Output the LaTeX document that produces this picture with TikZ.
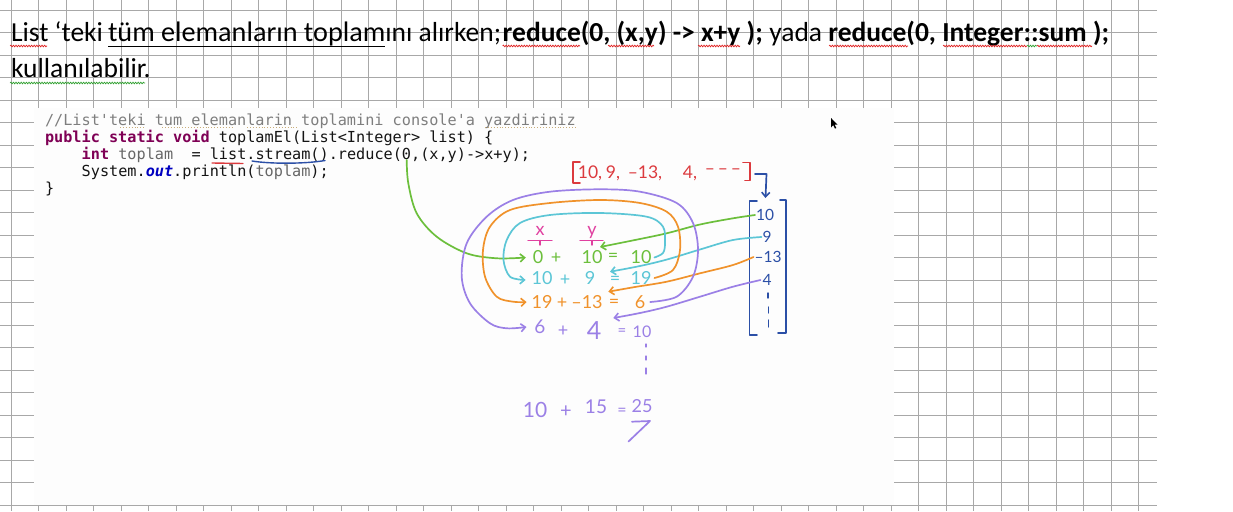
\documentclass[tikz,border=0pt]{standalone}
\usepackage{fontspec}
\setmainfont{Carlito}
\setmonofont{DejaVu Sans Mono}
\newfontfamily\hand{Lato}
\usetikzlibrary{arrows.meta,decorations.pathmorphing}
\definecolor{gridc}{HTML}{A8A8A8}
\definecolor{shotbg}{HTML}{FDFDFD}
\definecolor{cmt}{HTML}{7E7E7E}
\definecolor{kw}{HTML}{7F0055}
\definecolor{varc}{HTML}{666666}
\definecolor{outc}{HTML}{0000C0}
\definecolor{codetxt}{HTML}{141414}
\definecolor{spellred}{HTML}{E02020}
\definecolor{spellgreen}{HTML}{30A030}
\definecolor{idedot}{HTML}{C9AD7A}
\definecolor{hred}{HTML}{DC3A3E}
\definecolor{hblue}{HTML}{2B4FA6}
\definecolor{hpink}{HTML}{E040A0}
\definecolor{hgreen}{HTML}{6CBF3C}
\definecolor{hcyan}{HTML}{5CC6D6}
\definecolor{horange}{HTML}{F0922B}
\definecolor{hpurple}{HTML}{9B80E6}
\tikzset{
  gridline/.style={draw=gridc, line width=0.9pt},
  toptext/.style={anchor=base west, inner sep=0pt, outer sep=0pt, font=\fontsize{27.5}{32}\selectfont},
  codeline/.style={anchor=base west, inner sep=0pt, outer sep=0pt, text=codetxt, font=\ttfamily\fontsize{15.2}{17}\selectfont},
  hw/.style={inner sep=0pt, outer sep=0pt, anchor=center, font=\hand\fontsize{18}{18}\selectfont},
  hwred/.style={hw, text=hred, font=\hand\fontsize{17.5}{17.5}\selectfont},
  hwcol/.style={hw, text=hblue, font=\hand\fontsize{15.5}{15.5}\selectfont},
  hstroke/.style={line width=1.7pt, line cap=round, line join=round},
  harrow/.style={hstroke, -{Straight Barb[length=4.5pt,width=8pt,line width=1.6pt]}},
  spell/.style={line width=0.7pt, decorate, decoration={snake, amplitude=0.8pt, segment length=2.6pt}},
}
\begin{document}
\begin{tikzpicture}[x=1pt,y=-1pt]
\useasboundingbox (0,0) rectangle (1233,511);
\fill[white] (0,0) rectangle (1233,511);
% spreadsheet grid
\foreach \k in {0,...,41} \draw[gridline] ({11.3+27.5*\k},0) -- ({11.3+27.5*\k},511);
\foreach \k in {0,...,22} \draw[gridline] (0,{10+22.5*\k}) -- (1157,{10+22.5*\k});
% embedded screenshot
\fill[shotbg] (33.5,108) rectangle (893.5,505);

% ---- top text ----
\node[toptext] (t1) at (11,41.7) {List ‘teki};
\node[toptext, font=\fontsize{28.2}{32}\selectfont] (t2) at (108,41.7) {tüm elemanların toplam};
\node[toptext] (t3) at (t2.base east) {ını alırken;};
\node[toptext] (t4) at (502.7,41.7) {\bfseries reduce(0, (x,y) -> x+y );};
\node[toptext] (t5) at (769.3,41.7) {yada};
\node[toptext] (t6) at (828.3,41.7) {\bfseries reduce(0, Integer::sum );};
\node[toptext] (t7) at (11,77.6) {kullanılabilir.};
\draw[line width=1.3pt] ([yshift=-5pt]t2.base west) -- ([yshift=-5pt]t2.base east);
% spell-check marks
\draw[spell, spellred] (10,46) -- (47,46);
\draw[spell, spellred] (502.7,46) -- (580,46);
\draw[spell, spellred] (608,46) -- (654,46);
\draw[spell, spellred] (698,46) -- (740,46);
\draw[spell, spellred] (829,46) -- (908,46);
\draw[spell, spellred] (943,46) -- (1027,46);
\draw[spell, spellgreen] (1027,46) -- (1037,46);
\draw[spell, spellred] (1037,46) -- (1092,46);
\draw[spell, spellgreen] (10,83) -- (145,83);

% ---- code ----
\node[codeline] (c1) at (45,125) {\textcolor{cmt}{//List'teki tum elemanlarin toplamini console'a yazdiriniz}};
\node[codeline] (c2) at (45,142.2) {\textcolor{kw}{\bfseries public static void} toplamEl(List<Integer> list) \{};
\node[codeline] (c3) at (81.7,159.4) {\textcolor{kw}{\bfseries int} \textcolor{varc}{toplam}~~= list.stream().reduce(0,(x,y)->x+y);};
\node[codeline] (c4) at (81.7,176.6) {System.\textcolor{outc}{\bfseries\itshape out}.println(\textcolor{varc}{toplam});};
\node[codeline] (c5) at (45,193.8) {\}};
\draw[idedot, line width=0.9pt, dotted] (120,127.5) -- (145,127.5);
\draw[idedot, line width=0.9pt, dotted] (162,127.5) -- (233,127.5);
\draw[idedot, line width=0.9pt, dotted] (247,127.5) -- (297,127.5);
\draw[idedot, line width=0.9pt, dotted] (485,127.5) -- (577,127.5);
\draw[hred, line width=1.4pt, line cap=round] (212,163) -- (243,163.5);
\draw[hblue, line width=1.4pt, line cap=round] (252,161) .. controls (270,164) and (305,164) .. (325,160.5);

% cursor
\fill[black] (831,118) -- (831,127.5) -- (833.2,125.2) -- (835,128.6) -- (836.3,128) -- (834.6,124.6) -- (837.5,124.6) -- cycle;

% ---- red list ----
\node[hwred] (r1) at (590,173) {10,};
\node[hwred] (r2) at (613,173) {9,};
\node[hwred] (r3) at (645,173) {–13,};
\node[hwred] (r4) at (690,173) {4,};
\node[hwred] (r5) at (723,172) {–\,–\,–};
\draw[hred, hstroke] (580,162) -- (573,162) -- (573,183) -- (580,183);
\draw[hred, hstroke] (743,162.5) -- (750,162.5) -- (750,180.5) -- (745,180.5);
\coordinate (rbr) at (755,174);

% ---- blue column ----
\draw[hblue, hstroke] (757,201) -- (749.5,201) -- (749.5,335) -- (757,335);
\draw[hblue, hstroke] (780,200) -- (786,200) -- (786,333) -- (778,333);
\coordinate (colTop) at (765.5,198);
\draw[hblue, harrow] (rbr) -- (766.5,174) -- (colTop);
\node[hwcol] (L10) at (765,215) {10};
\node[hwcol] (L9) at (767,237) {9};
\node[hwcol] (L13) at (768,257) {–13};
\node[hwcol] (L4) at (767,280) {4};
\draw[hblue, hstroke, line width=1.4pt] (768,293) -- (768,298) (768.5,307) -- (768.5,313) (768.5,320) -- (768.5,327);

% ---- x / y markers ----
\node[hw, text=hpink, anchor=base] (mx) at (540,235) {x};
\node[hw, text=hpink, anchor=base] (my) at (592,235) {y};
\draw[hpink, hstroke, line width=1.4pt] (528,240.5) -- (552,240.5) (540,240.5) -- (540,245);
\draw[hpink, hstroke, line width=1.4pt] (580,240.5) -- (603,240.5) (592,240.5) -- (592,245);

% ---- equations ----
\node[hw, text=hgreen] (g0) at (538,257.5) {0};
\node[hw, text=hgreen] (gp) at (556,258.5) {+};
\node[hw, text=hgreen] (gy) at (592,257.5) {10};
\node[hw, text=hgreen] (ge) at (613,257.5) {=};
\node[hw, text=hgreen] (gr) at (641,257.5) {10};

\node[hw, text=hcyan] (c0) at (542,278) {10};
\node[hw, text=hcyan] (cp) at (565,280) {+};
\node[hw, text=hcyan] (cy) at (590,278) {9};
\node[hw, text=hcyan] (ce) at (615,280) {=};
\node[hw, text=hcyan] (cr) at (641,278) {19};

\node[hw, text=horange] (o0) at (542,302) {19};
\node[hw, text=horange] (op) at (562,303) {+};
\node[hw, text=horange] (oy) at (587,302) {–13};
\node[hw, text=horange] (oe) at (614,303.5) {=};
\node[hw, text=horange] (or) at (640,302) {6};

\node[hw, text=hpurple, font=\hand\fontsize{19}{19}\selectfont] (p0) at (540,327) {6};
\node[hw, text=hpurple] (pp) at (563,331.5) {+};
\node[hw, text=hpurple, font=\hand\fontsize{25}{25}\selectfont] (py) at (594,330.5) {4};
\node[hw, text=hpurple, font=\hand\fontsize{15}{15}\selectfont] (pe) at (622,332) {=};
\node[hw, text=hpurple, font=\hand\fontsize{16}{16}\selectfont] (pr) at (642,332) {10};

\draw[hpurple, hstroke, line width=1.3pt] (646,344) -- (646,347) (646,356) -- (646,360) (646,368) -- (646,374);

\node[hw, text=hpurple, font=\hand\fontsize{21}{21}\selectfont] (b0) at (535,410) {10};
\node[hw, text=hpurple, font=\hand\fontsize{20}{20}\selectfont] (bp) at (566,411.5) {+};
\node[hw, text=hpurple, font=\hand\fontsize{19}{19}\selectfont] (by) at (596,407) {15};
\node[hw, text=hpurple, font=\hand\fontsize{16}{16}\selectfont] (be) at (622,411.5) {=};
\node[hw, text=hpurple, font=\hand\fontsize{18}{18}\selectfont] (br) at (642,406.5) {25};
\draw[hpurple, hstroke] (632,421.7) -- (650,421) -- (628.5,441.5);

% ---- tips of the list arrows ----
\coordinate (gstart) at (406.7,160);
\coordinate (gTip) at (600,247);
\coordinate (cTip) at (610,271.7);
\coordinate (oTip) at (608.3,291.7);
\coordinate (pTip) at (613.3,318);

% ---- green ----
\draw[hgreen, harrow] plot[smooth, tension=0.55] coordinates {(gstart) (408.3,183.3) (416.7,213.3) (436.7,236.7) (466.7,253.3) (496.7,258.3) ([xshift=-7pt]g0.west)};
\draw[hgreen, harrow] plot[smooth, tension=0.55] coordinates {([xshift=-1pt]L10.west) (733,218.3) (700,224.5) (666.7,233.3) (635,240) (gTip)};
% ---- cyan ----
\draw[hcyan, harrow] plot[smooth, tension=0.55] coordinates {([xshift=3pt]gr.east) (663,253) (665,243) (663,226.7) (646.7,216.7) (600,213) (550,215) (520,223) (506.7,240) (503.5,260) (510,276.7) ([xshift=-6pt, yshift=-2pt]c0.west)};
\draw[hcyan, harrow] plot[smooth, tension=0.55] coordinates {([xshift=-1pt]L9.west) (733,240) (700,249.5) (667,259.5) (640,266) (cTip)};
% ---- orange ----
\draw[horange, harrow] plot[smooth, tension=0.55] coordinates {([xshift=3pt]cr.east) (673,270) (680,250) (678,226.7) (666.7,211.7) (640,203) (600,200) (550,203) (510,210) (490,226.7) (483,250) (485,276.7) (496.7,296.7) (513,301.7) ([xshift=-5pt]o0.west)};
\draw[horange, harrow] plot[smooth, tension=0.55] coordinates {([xshift=-1pt]L13.west) (733,265) (700,273.3) (666.7,281.7) (635,287) (oTip)};
% ---- purple ----
\draw[hpurple, harrow] plot[smooth, tension=0.55] coordinates {([xshift=5pt]or.east) (676.7,296.7) (693,276.7) (698,250) (693,223) (676.7,203) (640,191.7) (600,189.3) (550,191.7) (513,200) (486.7,216.7) (466.7,243.3) (461.7,276.7) (470,303.3) (490,323.3) (506.7,328.3) ([xshift=-8pt]p0.west)};
\draw[hpurple, harrow] plot[smooth, tension=0.55] coordinates {([xshift=-2pt]L4.west) (733,286.7) (700,296.7) (666.7,306.7) (640,313) (pTip)};
\end{tikzpicture}
\end{document}
